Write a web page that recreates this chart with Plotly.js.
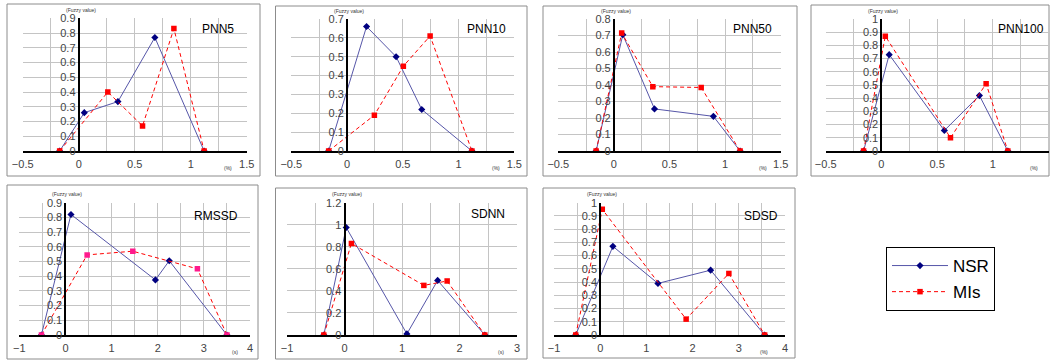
<!DOCTYPE html>
<html>
<head>
<meta charset="utf-8">
<script src="https://cdn.plot.ly/plotly-3.0.1.min.js"></script>
<style>html,body{margin:0;padding:0;background:#fff;}#chart{width:1052px;height:362px;}</style>
</head>
<body>
<div id="chart"></div>
<script>
// ---- data ----
const seriesNames = ["NSR", "MIs"];
const panelTitles = ["PNN5", "PNN10", "PNN50", "PNN100", "RMSSD", "SDNN", "SDSD"];
const unitLabels = ["(%)", "(%)", "(%)", "(%)", "(s)", "(s)", "(%)"];
const yLabel = "(Fuzzy value)";

const pnn5NsrX = [-0.17, 0.05, 0.35, 0.68, 1.12];
const pnn5NsrY = [0, 0.26, 0.335, 0.77, 0];
const pnn5MisX = [-0.17, 0.26, 0.57, 0.85, 1.12];
const pnn5MisY = [0, 0.40, 0.17, 0.83, 0];

const pnn10NsrX = [-0.165, 0.175, 0.44, 0.67, 1.12];
const pnn10NsrY = [0, 0.66, 0.50, 0.22, 0];
const pnn10MisX = [-0.165, 0.245, 0.505, 0.745, 1.12];
const pnn10MisY = [0, 0.19, 0.45, 0.61, 0];

const pnn50NsrX = [-0.16, 0.08, 0.365, 0.895, 1.135];
const pnn50NsrY = [0, 0.705, 0.255, 0.21, 0];
const pnn50MisX = [-0.16, 0.07, 0.35, 0.785, 1.135];
const pnn50MisY = [0, 0.715, 0.39, 0.385, 0];

const pnn100NsrX = [-0.16, 0.07, 0.565, 0.88, 1.135];
const pnn100NsrY = [0, 0.73, 0.155, 0.42, 0];
const pnn100MisX = [-0.16, 0.035, 0.62, 0.94, 1.135];
const pnn100MisY = [0, 0.87, 0.10, 0.51, 0];

const rmssdNsrX = [-0.52, 0.12, 1.95, 2.25, 3.5];
const rmssdNsrY = [0, 0.82, 0.375, 0.505, 0];
const rmssdMisX = [-0.52, 0.47, 1.46, 2.86, 3.5];
const rmssdMisY = [0, 0.545, 0.57, 0.45, 0];

const sdnnNsrX = [-0.36, 0.03, 1.085, 1.62, 2.44];
const sdnnNsrY = [0, 0.975, 0.01, 0.495, 0];
const sdnnMisX = [-0.36, 0.12, 1.38, 1.785, 2.44];
const sdnnMisY = [0, 0.83, 0.45, 0.49, 0];

const sdsdNsrX = [-0.53, 0.275, 1.25, 2.39, 3.56];
const sdsdNsrY = [0, 0.67, 0.39, 0.49, 0];
const sdsdMisX = [-0.53, 0.045, 1.86, 2.785, 3.56];
const sdsdMisY = [0, 0.95, 0.12, 0.465, 0];

const xRanges = [[-0.5, 1.5], [-0.5, 1.5], [-0.5, 1.5], [-0.5, 1.5], [-1, 4], [-1, 3], [-1, 4]];
const yMax = [0.9, 0.7, 0.8, 1.0, 0.9, 1.2, 1.0];
const xDtick = [0.5, 0.5, 0.5, 0.5, 1, 1, 1];
const yDtick = [0.1, 0.1, 0.1, 0.1, 0.1, 0.2, 0.1];

const nsrX = [pnn5NsrX, pnn10NsrX, pnn50NsrX, pnn100NsrX, rmssdNsrX, sdnnNsrX, sdsdNsrX];
const nsrY = [pnn5NsrY, pnn10NsrY, pnn50NsrY, pnn100NsrY, rmssdNsrY, sdnnNsrY, sdsdNsrY];
const misX = [pnn5MisX, pnn10MisX, pnn50MisX, pnn100MisX, rmssdMisX, sdnnMisX, sdsdMisX];
const misY = [pnn5MisY, pnn10MisY, pnn50MisY, pnn100MisY, rmssdMisY, sdnnMisY, sdsdMisY];

// ---- layout geometry (pixels) ----
const W = 1052, H = 362;
// plot areas: [left, right, top, bottom]
const plots = [
  [22.7, 246.7, 18.3, 151],
  [291.3, 514.3, 19, 151],
  [558.3, 780.7, 19, 151],
  [825.7, 1048.5, 19, 151],
  [19.3, 250, 202.7, 335],
  [287, 517, 202.7, 335],
  [554, 785, 202.7, 335]
];
// panel frames: [left, top, right, bottom]
const frames = [
  [7, 4, 260, 176],
  [275.5, 6, 527, 176],
  [543, 6, 797, 176],
  [811, 5, 1049, 176],
  [7, 185, 258, 359],
  [275.5, 188, 527, 359],
  [543, 188, 795, 358]
];
const titlePos = [[218, 29], [486, 29], [752, 29], [1021, 29], [216, 216], [488, 214], [761, 216]];
const unitPos = [[228, 168], [496, 168], [763, 168], [1034, 168], [235, 352], [501, 352], [764, 352]];

const px = x => x / W;
const py = y => 1 - y / H;

const traces = [];
const layout = {
  width: W, height: H,
  margin: {l: 0, r: 0, t: 0, b: 0},
  paper_bgcolor: "#ffffff",
  plot_bgcolor: "rgba(0,0,0,0)",
  font: {family: "Liberation Sans, Arial, sans-serif", size: 11, color: "#333333"},
  showlegend: true,
  legend: {
    x: px(886), y: py(247), xanchor: "left", yanchor: "top",
    bordercolor: "#000000", borderwidth: 1, bgcolor: "#ffffff",
    font: {size: 17, color: "#000000", family: "Liberation Sans, Arial, sans-serif"},
    itemwidth: 56, tracegroupgap: 1
  },
  shapes: [],
  annotations: []
};

for (let i = 0; i < 7; i++) {
  const n = i + 1;
  const xa = n === 1 ? "x" : "x" + n;
  const ya = n === 1 ? "y" : "y" + n;
  const [l, r, t, b] = plots[i];
  const xr = xRanges[i];
  const zeroPx = l + (0 - xr[0]) / (xr[1] - xr[0]) * (r - l);

  traces.push({
    x: nsrX[i], y: nsrY[i], xaxis: xa, yaxis: ya, type: "scatter", mode: "lines+markers",
    name: seriesNames[0], legendgroup: "a", showlegend: i === 0,
    line: {color: "#5656a8", width: 1},
    marker: {symbol: "diamond", size: 5.5, color: "#000080"}
  });
  traces.push({
    x: misX[i], y: misY[i], xaxis: xa, yaxis: ya, type: "scatter", mode: "lines+markers",
    name: seriesNames[1], legendgroup: "b", showlegend: i === 0,
    line: {color: "#ff0000", width: 1, dash: "4px,3px"},
    marker: {symbol: "square", size: 5.5, color: i === 4 ? "#ff1a8c" : "#ff0000"}
  });

  layout["xaxis" + (n === 1 ? "" : n)] = {
    domain: [px(l), px(r)], anchor: ya, range: xr, dtick: xDtick[i], tick0: 0,
    showline: true, linecolor: "#000000", linewidth: 2,
    showgrid: true, gridcolor: "#c4c4c4", gridwidth: 1, zeroline: false,
    ticks: "", ticklabelstandoff: 2, tickfont: {size: 11, color: "#444444"}, fixedrange: true,
    minor: {dtick: xDtick[i] / 2, tick0: 0, showgrid: true, gridcolor: "#c4c4c4", gridwidth: 1}
  };
  layout["yaxis" + (n === 1 ? "" : n)] = {
    domain: [py(b), py(t)], anchor: "free", position: px(zeroPx),
    range: [0, yMax[i] + 1e-6], dtick: yDtick[i], tick0: 0,
    showline: true, linecolor: "#000000", linewidth: 2,
    showgrid: true, gridcolor: "#c4c4c4", gridwidth: 1, zeroline: false,
    ticks: "", tickfont: {size: 11, color: "#444444"}, fixedrange: true
  };

  const f = frames[i];
  layout.shapes.push({
    type: "rect", xref: "paper", yref: "paper",
    x0: px(f[0]), x1: px(f[2]), y0: py(f[3]), y1: py(f[1]),
    line: {color: "#8c8c8c", width: 1}, fillcolor: "rgba(0,0,0,0)", layer: "below"
  });

  layout.annotations.push({
    xref: "paper", yref: "paper", x: px(titlePos[i][0]), y: py(titlePos[i][1]),
    text: panelTitles[i], showarrow: false, xanchor: "center", yanchor: "middle",
    font: {size: 12, color: "#000000"}
  });
  layout.annotations.push({
    xref: "paper", yref: "paper", x: px(zeroPx + 2), y: py(t - 8.5),
    text: yLabel, showarrow: false, xanchor: "center", yanchor: "middle",
    font: {size: 5, color: "#333333"}
  });
  layout.annotations.push({
    xref: "paper", yref: "paper", x: px(unitPos[i][0]), y: py(unitPos[i][1]),
    text: unitLabels[i], showarrow: false, xanchor: "center", yanchor: "middle",
    font: {size: 5, color: "#333333"}
  });
}

Plotly.newPlot("chart", traces, layout, {displayModeBar: false, staticPlot: true});
</script>
</body>
</html>
